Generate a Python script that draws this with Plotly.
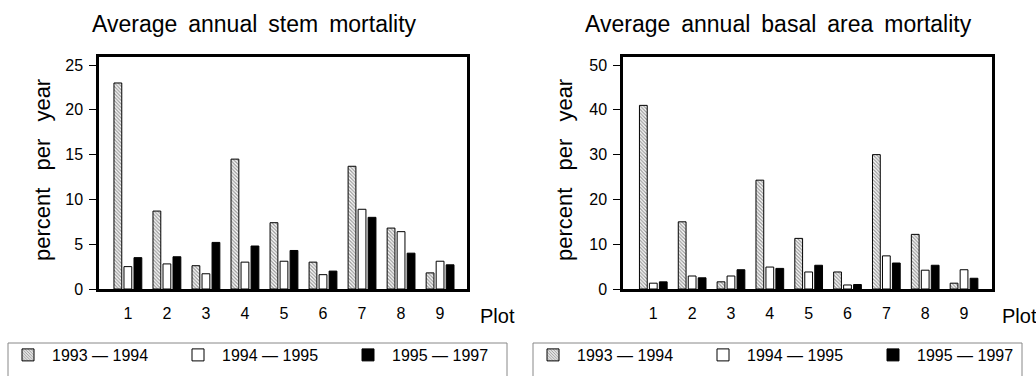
import plotly.graph_objects as go

W, H = 1036, 376

plots = [1, 2, 3, 4, 5, 6, 7, 8, 9]
tick_labels = ["1", "2", "3", "4", "5", "6", "7", "8", "9"]
series_names = ["1993 — 1994", "1994 — 1995", "1995 — 1997"]

# Average annual stem mortality (% per year)
stem_9394 = [23.0, 8.7, 2.6, 14.5, 7.4, 3.0, 13.7, 6.8, 1.8]
stem_9495 = [2.5, 2.8, 1.7, 3.0, 3.1, 1.6, 8.9, 6.4, 3.1]
stem_9597 = [3.5, 3.6, 5.2, 4.8, 4.3, 2.0, 8.0, 4.0, 2.7]

# Average annual basal area mortality (% per year)
basal_9394 = [41.0, 15.0, 1.6, 24.3, 11.3, 3.8, 30.0, 12.2, 1.3]
basal_9495 = [1.3, 2.9, 2.9, 4.9, 3.8, 0.9, 7.4, 4.2, 4.3]
basal_9597 = [1.6, 2.5, 4.3, 4.6, 5.3, 1.0, 5.8, 5.3, 2.4]

stem_yticks = [0, 5, 10, 15, 20, 25]
basal_yticks = [0, 10, 20, 30, 40, 50]

FONT = "Liberation Sans, Arial, Helvetica, sans-serif"
TGAP = "\u00a0\u2009"
YGAP = "\u2002\u00a0"

styles = [
    dict(color="white", line=dict(color="black", width=1),
         pattern=dict(shape="\\", size=2.5, solidity=0.5, fgcolor="#333", bgcolor="white")),
    dict(color="white", line=dict(color="black", width=1)),
    dict(color="black", line=dict(color="black", width=1)),
]

fig = go.Figure()

for (xa, ya, leg, data) in [
    ("x", "y", "legend", [stem_9394, stem_9495, stem_9597]),
    ("x2", "y2", "legend2", [basal_9394, basal_9495, basal_9597]),
]:
    for name, vals, st in zip(series_names, data, styles):
        fig.add_trace(go.Bar(x=plots, y=vals, name=name, marker=st,
                             xaxis=xa, yaxis=ya, legend=leg))

def px_x(p):
    return p / W

def px_y(p):
    return 1 - p / H

xcommon = dict(tickvals=plots, ticktext=tick_labels, ticks="outside", ticklen=8,
               tickcolor="rgba(0,0,0,0)", showline=True, mirror=True, linecolor="black",
               linewidth=2.5, showgrid=False, zeroline=False,
               tickfont=dict(size=16, color="black", family=FONT))
ycommon = dict(ticks="outside", ticklen=7, tickwidth=1, tickcolor="black",
               showline=True, mirror=True, linecolor="black", linewidth=2.5,
               showgrid=False, zeroline=False, ticklabelstandoff=3,
               tickfont=dict(size=16, color="black", family=FONT))

ydom = [px_y(289), px_y(57)]

legend_common = dict(yanchor="top", xanchor="left", orientation="h",
                     borderwidth=0, bgcolor="rgba(0,0,0,0)",
                     font=dict(size=16, family=FONT, color="black"),
                     itemwidth=38, entrywidth=117, traceorder="normal")

fig.update_layout(
    width=W, height=H,
    margin=dict(l=0, r=0, t=0, b=0, autoexpand=False),
    paper_bgcolor="white", plot_bgcolor="white",
    font=dict(family=FONT, color="black"),
    barmode="group", bargap=0.23, bargroupgap=0.22,
    xaxis=dict(domain=[px_x(99), px_x(467)], range=[0.26, 9.69], anchor="y", **xcommon),
    yaxis=dict(domain=ydom, range=[0, 25.9], tickvals=stem_yticks, anchor="x", **ycommon),
    xaxis2=dict(domain=[px_x(623), px_x(992)], range=[0.22, 9.72], anchor="y2", **xcommon),
    yaxis2=dict(domain=ydom, range=[0, 51.8], tickvals=basal_yticks, anchor="x2", **ycommon),
    legend=dict(x=px_x(4), y=px_y(338), **legend_common),
    legend2=dict(x=px_x(529), y=px_y(338), **legend_common),
    showlegend=True,
)

# legend frames (open at the bottom edge of the picture, as in the original)
for x0, x1 in [(8, 507), (533, 1022)]:
    fig.add_shape(type="rect", xref="paper", yref="paper",
                  x0=px_x(x0), x1=px_x(x1), y0=px_y(385), y1=px_y(343),
                  line=dict(color="#888", width=1), fillcolor="rgba(0,0,0,0)", layer="below")

annots = [
    dict(text=TGAP.join(["Average", "annual", "stem", "mortality"]), x=px_x(254), y=px_y(24), size=23, angle=0),
    dict(text=TGAP.join(["Average", "annual", "basal", "area", "mortality"]), x=px_x(778), y=px_y(24), size=23, angle=0),
    dict(text=YGAP.join(["percent", "per", "year"]), x=px_x(42), y=px_y(170), size=22, angle=-90),
    dict(text=YGAP.join(["percent", "per", "year"]), x=px_x(564), y=px_y(170), size=22, angle=-90),
    dict(text="Plot", x=px_x(497), y=px_y(316), size=20, angle=0),
    dict(text="Plot", x=px_x(1019), y=px_y(316), size=20, angle=0),
]
for a in annots:
    fig.add_annotation(text=a["text"], x=a["x"], y=a["y"], xref="paper", yref="paper",
                       xanchor="center", yanchor="middle", showarrow=False,
                       textangle=a["angle"], font=dict(size=a["size"], family=FONT, color="black"))

fig.write_html("out.html")
